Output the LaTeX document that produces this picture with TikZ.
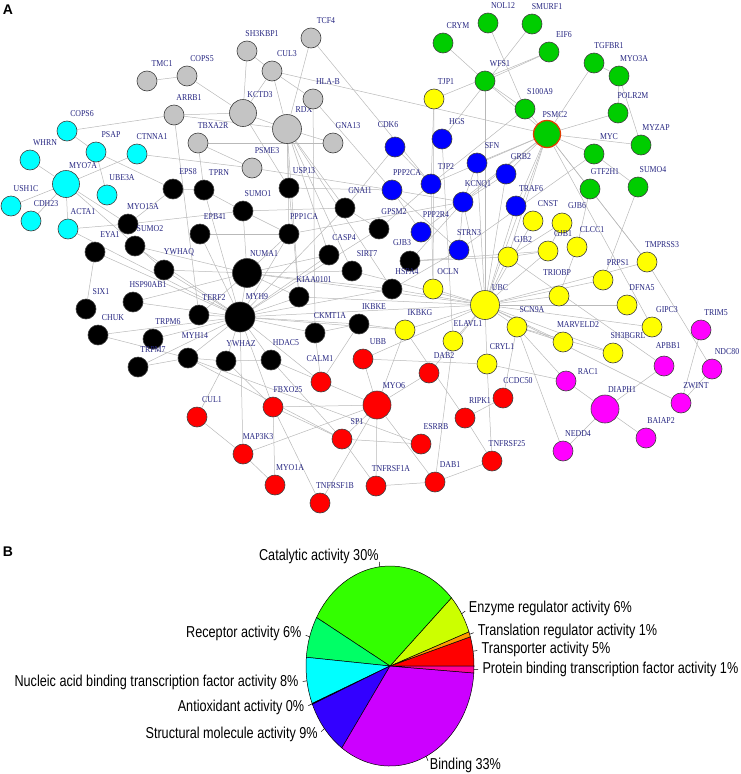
\documentclass[tikz,border=0pt]{standalone}
\usepackage{fontspec}
\setmainfont{Liberation Serif}
\newfontfamily\genefont[FakeStretch=0.87]{Liberation Serif}
\newfontfamily\piefont[FakeStretch=0.8]{Liberation Sans}
\newfontfamily\panelfont{Liberation Sans}
\usepackage{tikz}
\usepackage{xcolor}

\definecolor{lblblue}{RGB}{36,36,128}
\definecolor{linkgray}{RGB}{185,185,185}
\definecolor{cGray}{RGB}{196,196,196}
\definecolor{cCyan}{RGB}{0,255,255}
\definecolor{cBlue}{RGB}{0,0,255}
\definecolor{cGreen}{RGB}{0,205,0}
\definecolor{cYellow}{RGB}{255,255,0}
\definecolor{cRed}{RGB}{255,0,0}
\definecolor{cMag}{RGB}{255,0,255}
\definecolor{ringred}{RGB}{225,60,0}
% pie colours (rainbow order)
\definecolor{pTr}{HTML}{FF0000}
\definecolor{pTl}{HTML}{FF9900}
\definecolor{pEn}{HTML}{CCFF00}
\definecolor{pCa}{HTML}{33FF00}
\definecolor{pRe}{HTML}{00FF66}
\definecolor{pNu}{HTML}{00FFFF}
\definecolor{pAn}{HTML}{0066FF}
\definecolor{pSt}{HTML}{3300FF}
\definecolor{pBi}{HTML}{CC00FF}
\definecolor{pPr}{HTML}{FF0099}

\pgfdeclarelayer{background}
\pgfsetlayers{background,main}

\begin{document}
\begin{tikzpicture}[
    x=1pt, y=-1pt,
    gene/.style={circle, draw=black!75, line width=0.6pt, minimum size=20pt, inner sep=0pt},
    hub/.style={gene, minimum size=28pt},
    lbl/.style={font=\genefont\fontsize{9}{10}\selectfont, text=lblblue, inner sep=0pt},
    gl/.style={label={[lbl,anchor=center,xshift=15pt,yshift=7pt]above:#1}},
    hl/.style={label={[lbl,anchor=center,xshift=17pt,yshift=5pt]above:#1}},
    gat/.style n args={3}{label={[lbl,anchor=center,xshift=#1,yshift=#2]above:#3}},
    link/.style={draw=linkgray, line width=0.5pt},
    slice/.style={draw=black, line width=0.5pt},
    pielbl/.style={font=\piefont\fontsize{15.8}{18}\selectfont, inner sep=0pt},
    panel/.style={font=\panelfont\fontsize{14}{16}\selectfont\bfseries, inner sep=0pt}
]
\useasboundingbox (0,0) rectangle (741,774);

\node[panel] (panA) at (8,10) {A};
\node[panel] (panB) at (8,552) {B};

% gray module
\node[gene, fill=cGray, gl=TMC1] (TMC1) at (147,81) {};
\node[gene, fill=cGray, gl=COPS5] (COPS5) at (187,76) {};
\node[gene, fill=cGray, gl=SH3KBP1] (SH3KBP1) at (247,51) {};
\node[gene, fill=cGray, gl=TCF4] (TCF4) at (311,38) {};
\node[gene, fill=cGray, gl=CUL3] (CUL3) at (272,71) {};
\node[hub, fill=cGray, minimum size=27pt, hl=KCTD3] (KCTD3) at (243,113) {};
\node[hub, fill=cGray, minimum size=29pt, hl=RDX] (RDX) at (287,129) {};
\node[gene, fill=cGray, gl=HLA-B] (HLAB) at (313,99) {};
\node[gene, fill=cGray, gl=ARRB1] (ARRB1) at (174,115) {};
\node[gene, fill=cGray, gl=TBXA2R] (TBXA2R) at (198,143) {};
\node[gene, fill=cGray, gl=GNA13] (GNA13) at (333,143) {};
\node[gene, fill=cGray, gl=PSME3] (PSME3) at (252,168) {};

% cyan module
\node[gene, fill=cCyan, gl=COPS6] (COPS6) at (67,131) {};
\node[gene, fill=cCyan, gl=PSAP] (PSAP) at (96,152) {};
\node[gene, fill=cCyan, gl=CTNNA1] (CTNNA1) at (137,154) {};
\node[gene, fill=cCyan, gl=WHRN] (WHRN) at (30,160) {};
\node[hub, fill=cCyan, minimum size=27pt, hl=MYO7A] (MYO7A) at (66,184) {};
\node[gene, fill=cCyan, gl=USH1C] (USH1C) at (11,206) {};
\node[gene, fill=cCyan, gl=CDH23] (CDH23) at (31,221) {};
\node[gene, fill=cCyan, gl=UBE3A] (UBE3A) at (107,195) {};
\node[gene, fill=cCyan, gl=ACTA1] (ACTA1) at (68,229) {};

% black module
\node[gene, fill=black, gl=EPS8] (EPS8) at (173,189) {};
\node[gene, fill=black, gl=TPRN] (TPRN) at (204,190) {};
\node[gene, fill=black, gl=USP13] (USP13) at (289,188) {};
\node[gene, fill=black, gl=SUMO1] (SUMO1) at (243,211) {};
\node[gene, fill=black, gl=GNAI1] (GNAI1) at (345,208) {};
\node[gene, fill=black, gl=MYO15A] (MYO15A) at (128,224) {};
\node[gene, fill=black, gl=EPB41] (EPB41) at (200,234) {};
\node[gene, fill=black, gl=PPP1CA] (PPP1CA) at (289,234) {};
\node[gene, fill=black, gl=GPSM2] (GPSM2) at (379,229) {};
\node[gene, fill=black, gl=SUMO2] (SUMO2) at (135,246) {};
\node[gene, fill=black, gl=EYA1] (EYA1) at (95,252) {};
\node[gene, fill=black, gl=CASP4] (CASP4) at (329,255) {};
\node[gene, fill=black, gat={-8pt}{8pt}{GJB3}] (GJB3) at (410,261) {};
\node[gene, fill=black, gl=YWHAQ] (YWHAQ) at (164,270) {};
\node[gene, fill=black, gl=SIRT7] (SIRT7) at (352,271) {};
\node[hub, fill=black, minimum size=29pt, hl=NUMA1] (NUMA1) at (247,273) {};
\node[gene, fill=black, gl=HSPA4] (HSPA4) at (392,289) {};
\node[gene, fill=black, gl=HSP90AB1] (HSP90AB1) at (133,302) {};
\node[gene, fill=black, gl=KIAA0101] (KIAA0101) at (299,297) {};
\node[gene, fill=black, gl=SIX1] (SIX1) at (86,309) {};
\node[gene, fill=black, gl=TERF2] (TERF2) at (199,315) {};
\node[hub, fill=black, minimum size=30pt, hl=MYH9] (MYH9) at (240,317) {};
\node[gene, fill=black, gl=IKBKE] (IKBKE) at (359,324) {};
\node[gene, fill=black, gl=CKMT1A] (CKMT1A) at (315,333) {};
\node[gene, fill=black, gl=CHUK] (CHUK) at (98,335) {};
\node[gene, fill=black, gl=TRPM6] (TRPM6) at (153,339) {};
\node[gene, fill=black, gat={7pt}{12pt}{MYH14}] (MYH14) at (188,358) {};
\node[gene, fill=black, gl=HDAC5] (HDAC5) at (271,360) {};
\node[gene, fill=black, gl=YWHAZ] (YWHAZ) at (226,361) {};
\node[gene, fill=black, gl=TRPM7] (TRPM7) at (138,367) {};

% blue module
\node[gene, fill=cBlue, gat={-7pt}{12pt}{CDK6}] (CDK6) at (395,147) {};
\node[gene, fill=cBlue, gl=HGS] (HGS) at (442,139) {};
\node[gene, fill=cBlue, gl=SFN] (SFN) at (477,163) {};
\node[gene, fill=cBlue, gl=TJP2] (TJP2) at (431,184) {};
\node[gene, fill=cBlue, gl=PPP2CA] (PPP2CA) at (392,190) {};
\node[gene, fill=cBlue, gl=GRB2] (GRB2) at (506,174) {};
\node[gene, fill=cBlue, gl=KCNQ1] (KCNQ1) at (463,202) {};
\node[gene, fill=cBlue, gl=TRAF6] (TRAF6) at (516,206) {};
\node[gene, fill=cBlue, gl=PPP2R4] (PPP2R4) at (421,232) {};
\node[gene, fill=cBlue, gat={10pt}{7pt}{STRN3}] (STRN3) at (459,250) {};

% green module
\node[gene, fill=cGreen, gl=CRYM] (CRYM) at (443,43) {};
\node[gene, fill=cGreen, gl=NOL12] (NOL12) at (488,23) {};
\node[gene, fill=cGreen, gl=SMURF1] (SMURF1) at (532,24) {};
\node[gene, fill=cGreen, gl=EIF6] (EIF6) at (549,52) {};
\node[gene, fill=cGreen, gl=TGFBR1] (TGFBR1) at (594,63) {};
\node[gene, fill=cGreen, gl=MYO3A] (MYO3A) at (619,76) {};
\node[gene, fill=cGreen, gl=WFS1] (WFS1) at (485,81) {};
\node[gene, fill=cGreen, gl=S100A9] (S100A9) at (525,109) {};
\node[gene, fill=cGreen, gl=POLR2M] (POLR2M) at (618,113) {};
\node[hub, fill=cGreen, draw=ringred, line width=1.3pt, minimum size=27pt,
      gat={8pt}{5pt}{PSMC2}] (PSMC2) at (547,134) {};
\node[gene, fill=cGreen, gl=MYZAP] (MYZAP) at (641,145) {};
\node[gene, fill=cGreen, gl=MYC] (MYC) at (594,154) {};
\node[gene, fill=cGreen, gl=GTF2H1] (GTF2H1) at (590,189) {};
\node[gene, fill=cGreen, gl=SUMO4] (SUMO4) at (638,187) {};

% yellow module
\node[gene, fill=cYellow, gat={12pt}{7pt}{TJP1}] (TJP1) at (434,99) {};
\node[gene, fill=cYellow, gl=CNST] (CNST) at (533,221) {};
\node[gene, fill=cYellow, gl=GJB6] (GJB6) at (562,223) {};
\node[gene, fill=cYellow, gl=CLCC1] (CLCC1) at (577,247) {};
\node[gene, fill=cYellow, gl=GJB1] (GJB1) at (548,251) {};
\node[gene, fill=cYellow, gl=GJB2] (GJB2) at (508,257) {};
\node[gene, fill=cYellow, gl=TMPRSS3] (TMPRSS3) at (647,262) {};
\node[gene, fill=cYellow, gl=PRPS1] (PRPS1) at (603,280) {};
\node[gene, fill=cYellow, gl=OCLN] (OCLN) at (433,289) {};
\node[gene, fill=cYellow, gat={-2pt}{13pt}{TRIOBP}] (TRIOBP) at (559,296) {};
\node[hub, fill=cYellow, minimum size=29pt, gat={15pt}{3pt}{UBC}] (UBC) at (485,305) {};
\node[gene, fill=cYellow, gl=DFNA5] (DFNA5) at (627,305) {};
\node[gene, fill=cYellow, gl=SCN9A] (SCN9A) at (517,327) {};
\node[gene, fill=cYellow, gl=GIPC3] (GIPC3) at (652,327) {};
\node[gene, fill=cYellow, gl=IKBKG] (IKBKG) at (405,330) {};
\node[gene, fill=cYellow, gl=ELAVL1] (ELAVL1) at (453,341) {};
\node[gene, fill=cYellow, gl=MARVELD2] (MARVELD2) at (563,342) {};
\node[gene, fill=cYellow, gl=SH3BGRL] (SH3BGRL) at (613,353) {};
\node[gene, fill=cYellow, gl=CRYL1] (CRYL1) at (487,364) {};

% magenta module
\node[gene, fill=cMag, gl=TRIM5] (TRIM5) at (701,330) {};
\node[gene, fill=cMag, gat={4pt}{10pt}{APBB1}] (APBB1) at (664,366) {};
\node[gene, fill=cMag, gl=NDC80] (NDC80) at (712,369) {};
\node[gene, fill=cMag, gat={22pt}{-1pt}{RAC1}] (RAC1) at (566,381) {};
\node[gene, fill=cMag, gl=ZWINT] (ZWINT) at (681,403) {};
\node[hub, fill=cMag, minimum size=28pt, hl=DIAPH1] (DIAPH1) at (605,409) {};
\node[gene, fill=cMag, gl=BAIAP2] (BAIAP2) at (646,438) {};
\node[gene, fill=cMag, gl=NEDD4] (NEDD4) at (563,451) {};

% red module
\node[gene, fill=cRed, gl=UBB] (UBB) at (363,359) {};
\node[gene, fill=cRed, gat={-1pt}{13pt}{CALM1}] (CALM1) at (321,382) {};
\node[gene, fill=cRed, gl=DAB2] (DAB2) at (429,373) {};
\node[gene, fill=cRed, gl=CCDC50] (CCDC50) at (503,398) {};
\node[gene, fill=cRed, gl=FBXO25] (FBXO25) at (273,407) {};
\node[hub, fill=cRed, minimum size=28pt, hl=MYO6] (MYO6) at (377,405) {};
\node[gene, fill=cRed, gl=CUL1] (CUL1) at (197,417) {};
\node[gene, fill=cRed, gl=RIPK1] (RIPK1) at (465,418) {};
\node[gene, fill=cRed, gl=SP1] (SP1) at (342,439) {};
\node[gene, fill=cRed, gl=ESRRB] (ESRRB) at (421,444) {};
\node[gene, fill=cRed, gl=MAP3K3] (MAP3K3) at (243,454) {};
\node[gene, fill=cRed, gl=TNFRSF25] (TNFRSF25) at (492,461) {};
\node[gene, fill=cRed, gl=DAB1] (DAB1) at (435,482) {};
\node[gene, fill=cRed, gl=TNFRSF1A] (TNFRSF1A) at (376,486) {};
\node[gene, fill=cRed, gl=MYO1A] (MYO1A) at (275,485) {};
\node[gene, fill=cRed, gl=TNFRSF1B] (TNFRSF1B) at (320,503) {};

% interactions
\begin{pgfonlayer}{background}
\foreach \a/\b in {TMC1/COPS5, COPS5/KCTD3, SH3KBP1/KCTD3, SH3KBP1/CUL3, CUL3/KCTD3,
    CUL3/RDX, CUL3/HLAB, CUL3/PSMC2, TCF4/RDX, TCF4/TJP2, HLAB/PPP2CA, HLAB/CKMT1A,
    KCTD3/RDX, KCTD3/USP13, ARRB1/KCTD3, ARRB1/RDX, ARRB1/TERF2, TBXA2R/GNA13,
    TBXA2R/PSME3, TBXA2R/TPRN, RDX/GNA13, RDX/USP13, RDX/PPP1CA, RDX/GNAI1, RDX/CASP4,
    RDX/KIAA0101, RDX/SIRT7, RDX/HSPA4, PSME3/PPP2CA, CTNNA1/PSME3, COPS6/ARRB1}
    \draw[link] (\a) -- (\b);
\foreach \a/\b in {COPS6/PSAP, PSAP/UBE3A, PSAP/EPS8, CTNNA1/MYO7A, WHRN/MYO7A,
    MYO7A/USH1C, MYO7A/CDH23, MYO7A/ACTA1, MYO7A/MYO15A, MYO7A/YWHAQ, ACTA1/MYH9,
    ACTA1/MYO15A}
    \draw[link] (\a) -- (\b);
\foreach \a/\b in {EPS8/MYO15A, EPS8/TPRN, TPRN/SUMO1, TPRN/MYH9, MYO15A/SUMO1,
    SIX1/EYA1, EYA1/MYH9, SUMO2/NUMA1, SUMO2/MYH9, YWHAQ/NUMA1, YWHAQ/MYH9,
    HSP90AB1/NUMA1, HSP90AB1/MYH9, TERF2/MYH9, TERF2/NUMA1, CHUK/MYH9, CHUK/MYH14,
    TRPM6/MYH9, TRPM7/MYH14, TRPM7/MYH9, MYH14/MYH9, MYH14/YWHAZ, MYH14/SP1,
    MYH14/ESRRB, YWHAZ/MYH9, YWHAZ/CUL1, YWHAZ/FBXO25, YWHAZ/HDAC5, CUL1/MAP3K3,
    MYH9/MAP3K3, EPB41/MYH9, EPB41/PPP1CA, SUMO1/NUMA1, SUMO1/PPP1CA, SUMO1/GNAI1,
    USP13/KIAA0101, USP13/PPP2CA, GNAI1/GPSM2, GNAI1/CDK6, GNAI1/MYH9, PPP1CA/NUMA1,
    PPP1CA/MYH9, PPP1CA/KCNQ1, GPSM2/MYH9, GPSM2/TJP2, CASP4/NUMA1, CASP4/MYH9,
    SIRT7/NUMA1, SIRT7/UBC, GJB3/GJB2, GJB3/GJB1, GJB3/KCNQ1, HSPA4/MYH9, HSPA4/NUMA1,
    HSPA4/UBC, HSPA4/STRN3, NUMA1/MYH9, NUMA1/KIAA0101, NUMA1/UBC, KIAA0101/MYH9,
    KIAA0101/UBC, IKBKE/CKMT1A, IKBKE/IKBKG, IKBKE/MYH9, CKMT1A/MYH9, CKMT1A/CALM1,
    HDAC5/MYH9, HDAC5/SP1, HDAC5/MYO6, MYH9/UBC, MYH9/IKBKG}
    \draw[link] (\a) -- (\b);
\foreach \a/\b in {CDK6/TJP2, HGS/ELAVL1, TJP1/TJP2, TJP1/OCLN, TJP2/OCLN,
    PPP2CA/PPP2R4, PPP2CA/STRN3, PPP2CA/KCNQ1, SFN/KCNQ1, SFN/PSMC2, SFN/UBC,
    GRB2/PSMC2, GRB2/KCNQ1, GRB2/UBC, TRAF6/PSMC2, TRAF6/UBC, KCNQ1/PSMC2, KCNQ1/UBC,
    KCNQ1/STRN3, PPP2R4/PSMC2, TJP2/PSMC2}
    \draw[link] (\a) -- (\b);
\foreach \a/\b in {CRYM/WFS1, NOL12/S100A9, SMURF1/HGS, EIF6/WFS1, EIF6/TJP1,
    WFS1/S100A9, WFS1/PSMC2, WFS1/UBC, S100A9/PSMC2, S100A9/TJP2, TGFBR1/PSMC2,
    TGFBR1/MYO3A, MYO3A/POLR2M, MYO3A/MYZAP, POLR2M/PSMC2, PSMC2/MYZAP, PSMC2/MYC,
    PSMC2/GTF2H1, PSMC2/UBC, PSMC2/GIPC3, PSMC2/TMPRSS3, PSMC2/GJB2, MYC/SUMO4,
    MYC/STRN3, SUMO4/PRPS1, GTF2H1/CLCC1, GTF2H1/TMPRSS3}
    \draw[link] (\a) -- (\b);
\foreach \a/\b in {OCLN/UBC, IKBKG/UBC, ELAVL1/UBC, CRYL1/UBC, SCN9A/UBC, GJB2/UBC,
    GJB1/UBC, CNST/UBC, TRIOBP/UBC, TRIOBP/CLCC1, PRPS1/UBC, DFNA5/UBC, GIPC3/UBC,
    MARVELD2/UBC, SH3BGRL/UBC, TMPRSS3/UBC, GJB2/GJB6, GJB2/GJB1, GJB1/GJB6,
    IKBKG/MYO6, ELAVL1/DAB1, SCN9A/NEDD4, SCN9A/RAC1, SCN9A/CCDC50, SCN9A/MARVELD2,
    SCN9A/SH3BGRL, CRYL1/TNFRSF25, CRYL1/RAC1, TMPRSS3/NDC80, APBB1/GJB2, UBC/ZWINT}
    \draw[link] (\a) -- (\b);
\foreach \a/\b in {RAC1/DIAPH1, DIAPH1/APBB1, DIAPH1/BAIAP2, DIAPH1/NEDD4,
    TRIM5/ZWINT, ZWINT/NDC80}
    \draw[link] (\a) -- (\b);
\foreach \a/\b in {MYO6/UBB, MYO6/DAB2, MYO6/SP1, MYO6/TNFRSF1A, MYO6/DAB1,
    MYO6/FBXO25, MYO6/TNFRSF1B, MYO6/MAP3K3, SP1/ESRRB, SP1/FBXO25, SP1/TNFRSF1A,
    FBXO25/MYO1A, FBXO25/TNFRSF1B, MAP3K3/MYO1A, TNFRSF1A/DAB1, DAB1/TNFRSF25,
    RIPK1/TNFRSF25, RIPK1/IKBKG, RIPK1/CCDC50, DAB2/UBC, UBB/UBC, UBB/CRYL1,
    CALM1/MYH9, CALM1/IKBKE, MYH9/FBXO25}
    \draw[link] (\a) -- (\b);
\end{pgfonlayer}

% pie of molecular functions
\begin{scope}[shift={(390,666)}, yscale=-1]
\foreach \s/\e/\c in {0/17/pTr, 17/20/pTl, 20/43/pEn, 43/151/pCa, 151/175/pRe,
    175/202/pNu, 202/202.5/pAn, 202.5/235/pSt, 235/356/pBi, 356/360/pPr}
    \filldraw[slice, fill=\c] (0,0) -- (\s:84 and 100)
        arc[start angle=\s, end angle=\e, x radius=84, y radius=100] -- cycle;
\foreach \m in {8.5, 18.5, 31.5, 97, 163, 188.5, 202.2, 218.7, 295.5, 358}
    \draw[line width=0.5pt] (\m:84 and 100) -- (\m:88.2 and 105);
\node[pielbl, anchor=west] (lTr) at (8.5:92.4 and 110) {Transporter activity 5\%};
\node[pielbl, anchor=west] (lTl) at (18.5:92.4 and 110) {Translation regulator activity 1\%};
\node[pielbl, anchor=west] (lEn) at (31.5:92.4 and 110) {Enzyme regulator activity 6\%};
\node[pielbl, anchor=east] (lCa) at (97:92.4 and 110) {Catalytic activity 30\%};
\node[pielbl, anchor=east] (lRe) at (163:92.4 and 110) {Receptor activity 6\%};
\node[pielbl, anchor=east] (lNu) at (188.5:92.4 and 110) {Nucleic acid binding transcription factor activity 8\%};
\node[pielbl, anchor=east] (lAn) at (202.2:92.4 and 110) {Antioxidant activity 0\%};
\node[pielbl, anchor=east] (lSt) at (218.7:92.4 and 110) {Structural molecule activity 9\%};
\node[pielbl, anchor=west] (lBi) at (295.5:92.4 and 110) {Binding 33\%};
\node[pielbl, anchor=west] (lPr) at (358:92.4 and 110) {Protein binding transcription factor activity 1\%};
\end{scope}
\end{tikzpicture}
\end{document}
